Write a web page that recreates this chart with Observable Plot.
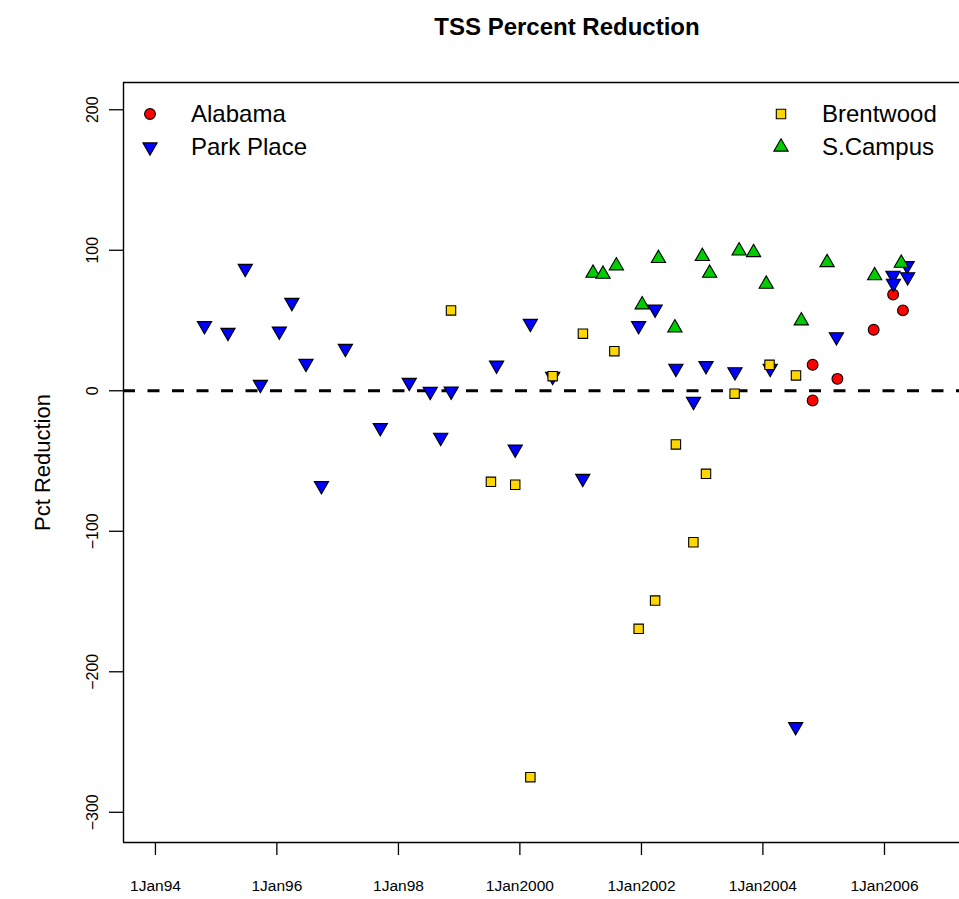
<!DOCTYPE html>
<html>
<head>
<meta charset="utf-8">
<script src="https://cdn.jsdelivr.net/npm/d3@7"></script>
<script src="https://cdn.jsdelivr.net/npm/@observablehq/plot@0.6"></script>
<style>
  body { margin: 0; background: #fff; font-family: "Liberation Sans", Arial, Helvetica, sans-serif; }
  #wrap { position: relative; width: 959px; height: 899px; overflow: hidden; background: #fff; }
  #title { position: absolute; top: 13px; left: 0; width: 1134px; text-align: center; font-weight: bold; font-size: 24px; line-height: 28px; color: #000; }
  #chart { position: absolute; left: 0; top: 0; }
  #legend { position: absolute; left: 0; top: 0; pointer-events: none; }
</style>
</head>
<body>
<div id="wrap">
  <div id="chart"></div>
  <div id="title">TSS Percent Reduction</div>
  <div id="legend"></div>
</div>
<script>
// ---- Data ----
const seriesNames = ["Alabama", "Park Place", "Brentwood", "S.Campus"];
const yLabel = "Pct Reduction";

const alabamaDates  = ["2004-10-26","2004-10-26","2005-03-24","2005-10-28","2006-02-22","2006-04-22"];
const alabamaValues = [18.5, -6.9, 8.5, 43.4, 68.5, 57.2];

const parkDates  = ["1994-10-23","1995-03-13","1995-06-25","1995-09-24","1996-01-16","1996-03-31","1996-06-24",
                    "1996-09-25","1997-02-16","1997-09-14","1998-03-07","1998-07-11","1998-09-12","1998-11-14",
                    "1999-08-14","1999-12-04","2000-03-04","2000-07-16","2001-01-13","2001-12-15","2002-03-24",
                    "2002-07-27","2002-11-10","2003-01-24","2003-07-17","2004-02-14","2004-07-16","2005-03-18",
                    "2006-02-21","2006-02-24","2006-05-17","2006-05-20"];
const parkValues = [46.3, 41.5, 87.0, 4.5, 42.4, 62.8, 19.4,
                    -67.6, 30.1, -26.3, 5.9, -0.5, -33.2, -0.3,
                    18.2, -41.6, 47.9, 10.2, -62.4, 46.3, 58.1,
                    15.9, -7.6, 17.8, 13.5, 15.9, -239.1, 38.4,
                    82.1, 76.4, 89.0, 81.1];

const brentDates  = ["1998-11-13","1999-07-11","1999-12-04","2000-03-04","2000-07-16","2001-01-14","2001-07-22",
                     "2001-12-15","2002-03-24","2002-07-27","2002-11-09","2003-01-24","2003-07-15","2004-02-10",
                     "2004-07-18"];
const brentValues = [57.2, -64.8, -66.9, -275.0, 10.4, 40.6, 28.2,
                     -169.4, -149.3, -38.2, -107.8, -59.1, -2.1, 18.5,
                     10.9];

const campusDates  = ["2001-03-16","2001-05-15","2001-08-03","2002-01-05","2002-04-13","2002-07-21","2003-01-02",
                      "2003-02-15","2003-08-11","2003-11-06","2004-01-21","2004-08-19","2005-01-21","2005-11-03",
                      "2006-04-12"];
const campusValues = [83.7, 83.0, 89.0, 61.2, 94.2, 44.8, 95.6,
                      83.7, 99.6, 98.4, 75.9, 49.8, 91.3, 81.9,
                      90.8];

const xTickDates  = ["1994-01-01","1996-01-01","1998-01-01","2000-01-01","2002-01-01","2004-01-01","2006-01-01"];
const xTickLabels = ["1Jan94","1Jan96","1Jan98","1Jan2000","1Jan2002","1Jan2004","1Jan2006"];
const yTicks = [-300, -200, -100, 0, 100, 200];

const xDomainDates = ["1993-06-23", "2007-03-28"];
const yDomain = [-321.5, 219.4];

// ---- Build tables ----
const toRows = (dates, values) => dates.map((d, i) => ({date: new Date(d + "T00:00:00Z"), value: values[i]}));
const alabama = toRows(alabamaDates, alabamaValues);
const park = toRows(parkDates, parkValues);
const brent = toRows(brentDates, brentValues);
const campus = toRows(campusDates, campusValues);
const xDomain = xDomainDates.map(d => new Date(d + "T00:00:00Z"));
const xTicks = xTickDates.map(d => new Date(d + "T00:00:00Z"));
const tickLabelMap = new Map(xTicks.map((d, i) => [+d, xTickLabels[i]]));

// custom downward triangle (centroid-centred, d3.symbolTriangle flipped)
const triangleDown = {
  draw(context, size) {
    const y = Math.sqrt(size / (3 * Math.sqrt(3)));
    context.moveTo(0, 2 * y);
    context.lineTo(-Math.sqrt(3) * y, -y);
    context.lineTo(Math.sqrt(3) * y, -y);
    context.closePath();
  }
};

const colors = {red: "#FF0000", blue: "#0000FF", gold: "#FFD700", green: "#00CD00"};
const dotStyle = {stroke: "black", strokeWidth: 1.1};

const chart = Plot.plot({
  width: 959,
  height: 899,
  marginLeft: 123,
  marginRight: 0,
  marginTop: 82,
  marginBottom: 57,
  style: {fontFamily: "'Liberation Sans', Arial, Helvetica, sans-serif", background: "white", color: "black", overflow: "visible"},
  x: {type: "utc", domain: xDomain},
  y: {domain: yDomain},
  marks: [
    Plot.ruleY([0], {stroke: "black", strokeWidth: 3, strokeDasharray: "12,12.5"}),
    Plot.ruleY([yDomain[1]], {stroke: "black", strokeWidth: 1.4}),
    Plot.ruleY([yDomain[0]], {stroke: "black", strokeWidth: 1.4}),
    Plot.ruleX([xDomain[0]], {stroke: "black", strokeWidth: 1.4}),
    Plot.axisX({ticks: xTicks, tickFormat: d => tickLabelMap.get(+d), tickSize: 13, tickPadding: 24,
                fontSize: 15.5, strokeWidth: 1.3, label: null}),
    Plot.axisY({ticks: yTicks, tickFormat: d => d < 0 ? "\u2212" + Math.abs(d) : String(d), tickSize: 14,
                tickRotate: -90, tickPadding: 12, fontSize: 16, strokeWidth: 1.3, label: null}),
    Plot.text([yLabel], {text: d => d, frameAnchor: "left", rotate: -90, dx: -81, fontSize: 22,
                         textAnchor: "middle", lineAnchor: "middle", fill: "black"}),
    Plot.dot(alabama, {x: "date", y: "value", symbol: "circle", r: 5.4, fill: colors.red, ...dotStyle}),
    Plot.dot(park, {x: "date", y: "value", symbol: triangleDown, r: 5.3, fill: colors.blue, ...dotStyle}),
    Plot.dot(brent, {x: "date", y: "value", symbol: "square", r: 5.3, fill: colors.gold, ...dotStyle}),
    Plot.dot(campus, {x: "date", y: "value", symbol: "triangle", r: 5.3, fill: colors.green, ...dotStyle})
  ]
});
document.getElementById("chart").appendChild(chart);

// ---- Legend overlay ----
const legendItems = [
  {name: seriesNames[0], fill: colors.red, type: d3.symbolCircle, r: 5.4, col: 0, row: 0},
  {name: seriesNames[1], fill: colors.blue, type: triangleDown, r: 5.3, col: 0, row: 1},
  {name: seriesNames[2], fill: colors.gold, type: d3.symbolSquare, r: 5.3, col: 1, row: 0},
  {name: seriesNames[3], fill: colors.green, type: d3.symbolTriangle, r: 5.3, col: 1, row: 1}
];
const colX = [150, 781];
const rowY = [114, 147];
const svg = d3.create("svg").attr("width", 959).attr("height", 899)
  .style("font-family", "'Liberation Sans', Arial, Helvetica, sans-serif");
for (const it of legendItems) {
  const g = svg.append("g").attr("transform", `translate(${colX[it.col]},${rowY[it.row]})`);
  g.append("path")
    .attr("d", d3.symbol().type(it.type).size(Math.PI * it.r * it.r)())
    .attr("fill", it.fill).attr("stroke", "black").attr("stroke-width", 1.1);
  g.append("text").attr("x", 41).attr("dy", "0.35em").attr("font-size", 24).attr("fill", "black").text(it.name);
}
document.getElementById("legend").appendChild(svg.node());
</script>
</body>
</html>
